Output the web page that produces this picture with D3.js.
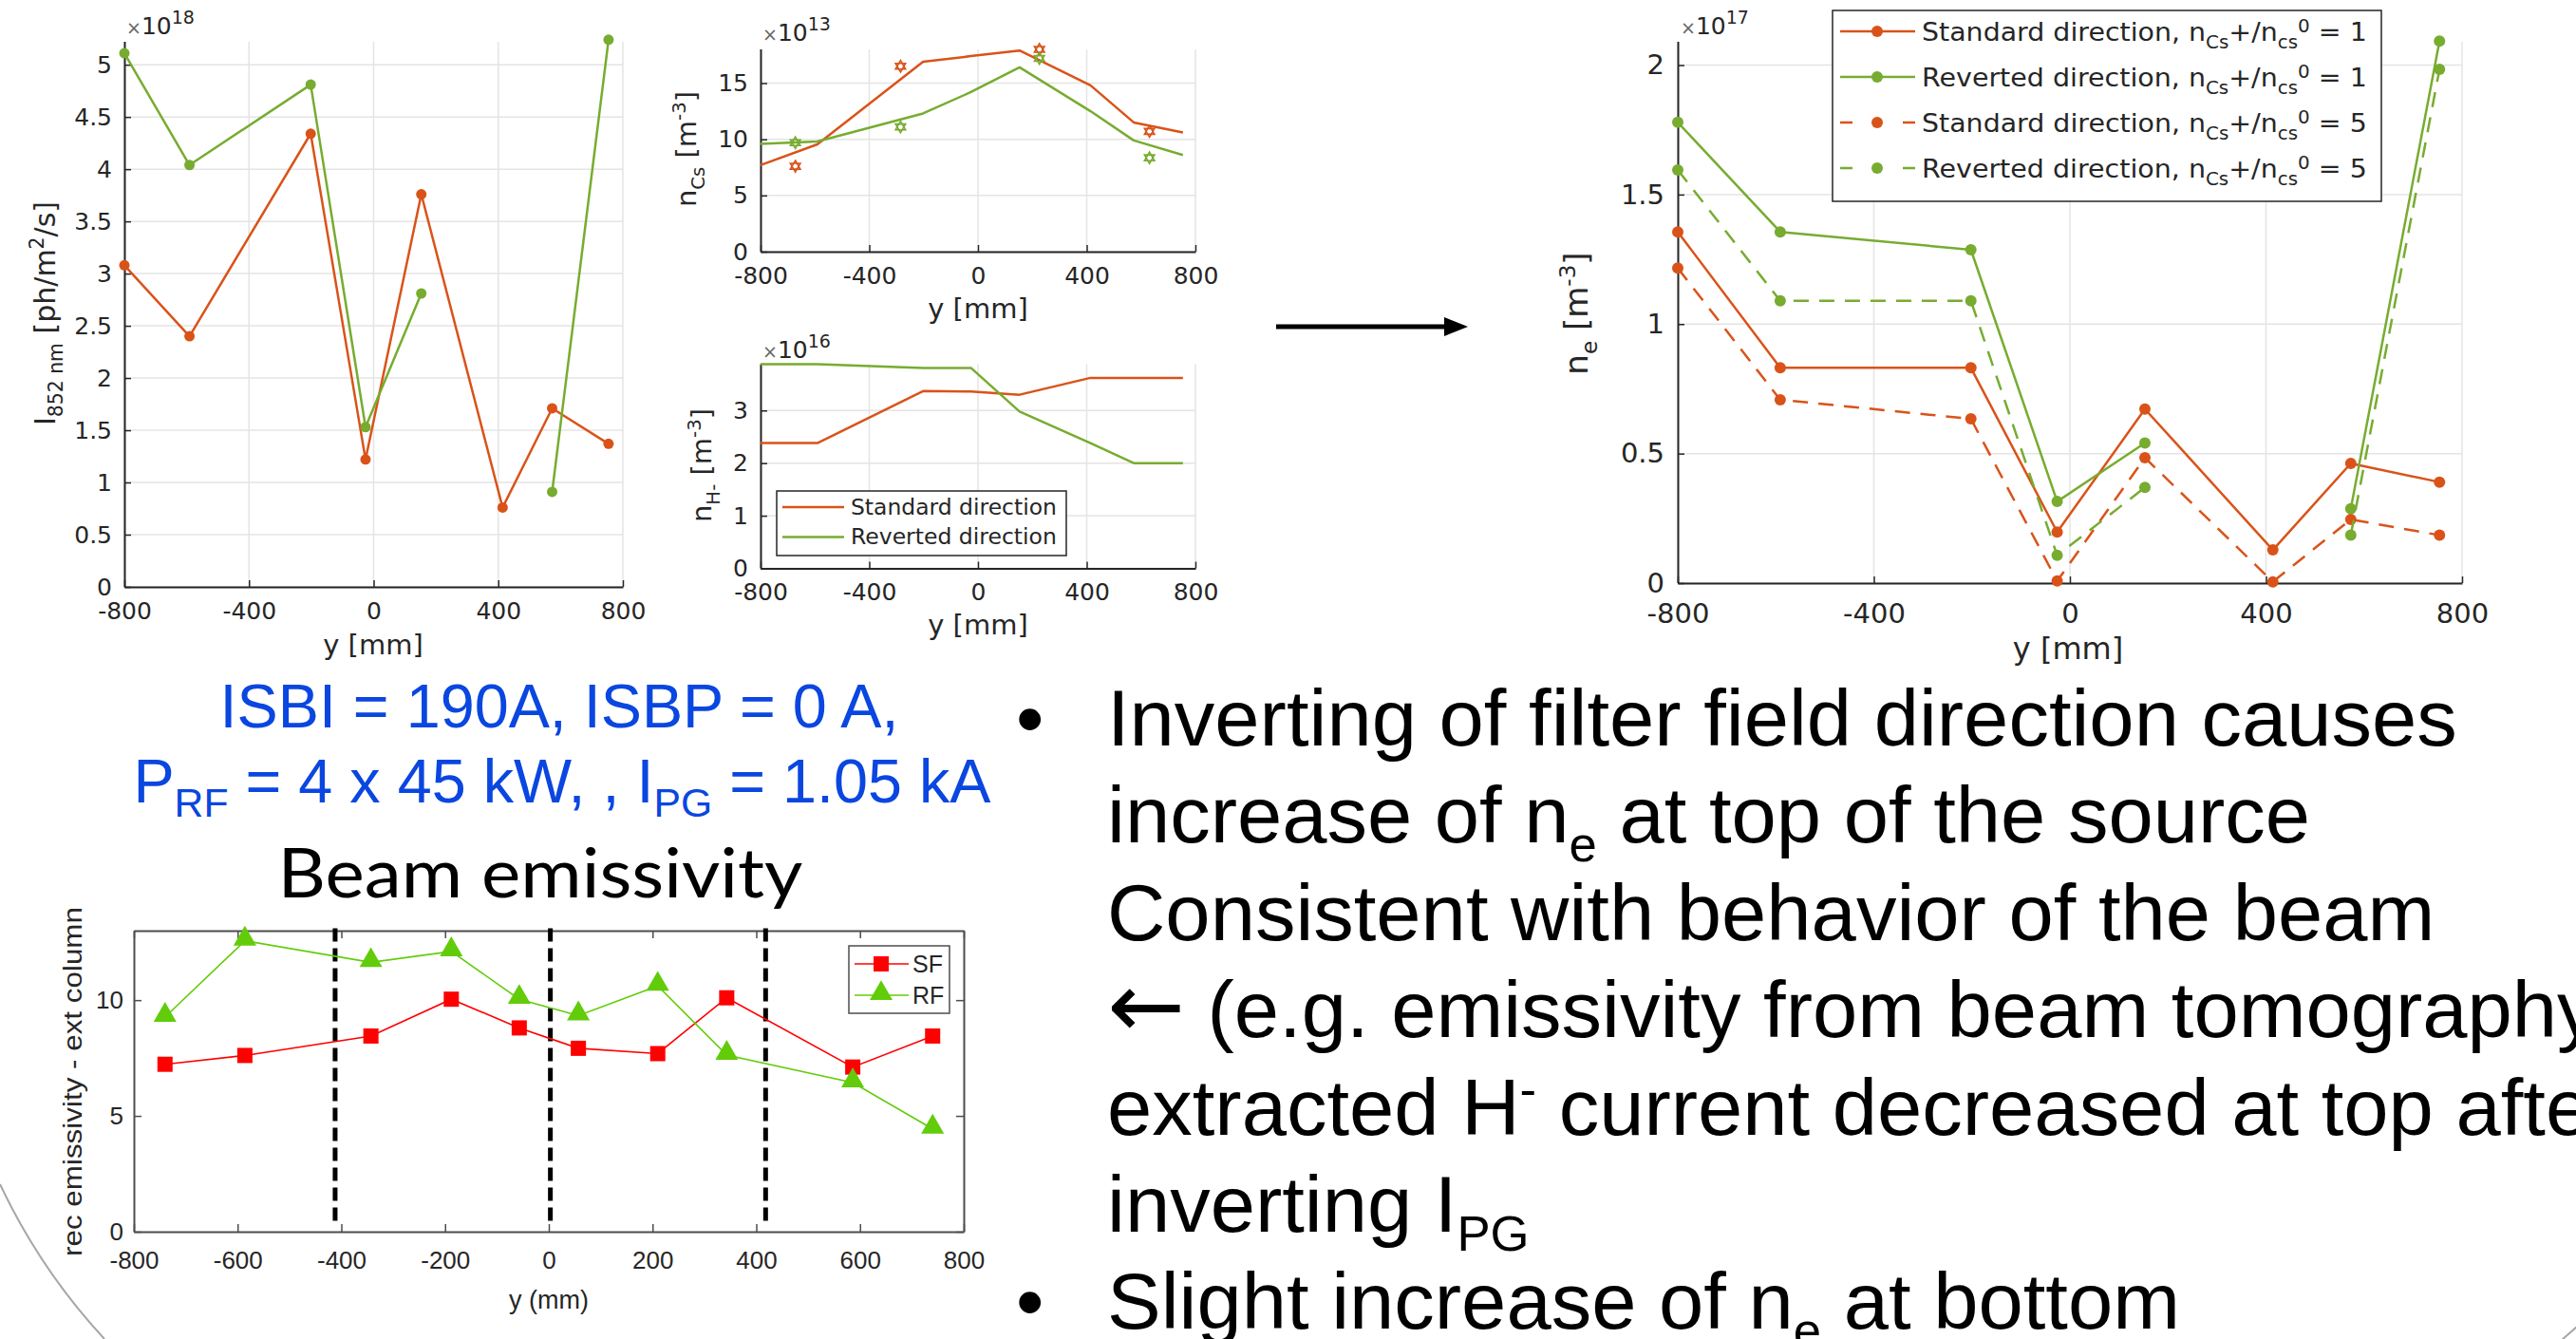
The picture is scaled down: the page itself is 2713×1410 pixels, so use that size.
<!DOCTYPE html>
<html>
<head>
<meta charset="utf-8">
<script src="https://cdn.jsdelivr.net/npm/d3@7"></script>
<style>
  body { margin: 0; background: #fff; }
  text { white-space: pre; }
</style>
</head>
<body>
<svg id="slide" width="2713" height="1410"></svg>
<script>
// ---------- data ----------
const xTicks = [-800, -400, 0, 400, 800];
const positions = [-800, -591, -202, -26, 153, 414, 573, 754];

// Cs 852 nm emission (x1e18 ph/m2/s)
const intensityStd = [3.08, 2.40, 4.34, 1.22, 3.76, 0.76, 1.71, 1.37];
const intensityRev = [5.11, 4.04, 4.81, 1.53, 2.81, null, 0.91, 5.24];
const intensityTicks = [0, 0.5, 1, 1.5, 2, 2.5, 3, 3.5, 4, 4.5, 5];

// Cs density (x1e13 m^-3): model lines and measured points
const csStd = [7.7, 9.55, 16.9, 17.4, 17.9, 14.8, 11.5, 10.6];
const csRev = [9.6, 9.8, 12.3, 14.2, 16.4, 12.5, 9.9, 8.6];
const csMeasPos = [-672, -285, 226, 631];
const csMeasStd = [7.6, 16.5, 18.0, 10.7];
const csMeasRev = [9.7, 11.1, 17.2, 8.35];
const csTicks = [0, 5, 10, 15];

// H- density (x1e16 m^-3)
const hStd = [2.38, 2.38, 3.37, 3.36, 3.30, 3.62, 3.62, 3.62];
const hRev = [3.88, 3.88, 3.81, 3.81, 2.98, 2.38, 2.0, 2.0];
const hTicks = [0, 1, 2, 3];

// electron density (x1e17 m^-3)
const neStd1 = [1.356, 0.831, 0.831, 0.197, 0.672, 0.128, 0.462, 0.390];
const neRev1 = [1.779, 1.356, 1.287, 0.315, 0.541, null, 0.287, 2.093];
const neStd5 = [1.216, 0.708, 0.634, 0.008, 0.484, 0.005, 0.246, 0.185];
const neRev5 = [1.595, 1.090, 1.090, 0.107, 0.369, null, 0.185, 1.984];
const neTicks = [0, 0.5, 1, 1.5, 2];
const neLegend = ["Standard direction", "Reverted direction", "Standard direction", "Reverted direction"];
const neRatio = ["1", "1", "5", "5"];

// beam emissivity (rec emissivity - ext column)
const beamPos = [-740, -586, -343, -188, -57, 57, 210, 343, 586, 740];
const beamSF = [7.23, 7.61, 8.45, 10.04, 8.80, 7.92, 7.69, 10.10, 7.11, 8.45];
const beamRF = [9.27, 12.56, 11.63, 12.10, 10.04, 9.33, 10.61, 7.63, 6.44, 4.44];
const beamDividers = [-412, 3, 418];
const beamXTicks = [-800, -600, -400, -200, 0, 200, 400, 600, 800];
const beamYTicks = [0, 5, 10];

const bulletLines = [
  [["Inverting of filter field direction causes"]],
  [["increase of n"], ["e", "sub"], [" at top of the source"]],
  [["Consistent with behavior of the beam"]],
  [["\u2190", "big"], [" (e.g. emissivity from beam tomography)"]],
  [["extracted H"], ["-", "sup"], [" current decreased at top after"]],
  [["inverting I"], ["PG", "sub"]],
  [["Slight increase of n"], ["e", "sub"], [" at bottom"]]
];

// ---------- helpers ----------
const svg = d3.select("#slide");
const ORANGE = "#d95319", GREEN = "#77ac30", INK = "#262626", GRID = "#e4e4e4";
const MFONT = "'DejaVu Sans', sans-serif";
const NARROW = "'Liberation Sans Narrow', 'Arial Narrow', 'Liberation Sans', Arial, sans-serif";

// text with sub/superscripts, parts = [[string, kind], ...]
function rich(t, parts, size, opt = {}) {
  const small = size * (opt.scale || 0.68);
  const sub = opt.sub != null ? opt.sub : size * 0.28;
  const sup = opt.sup != null ? opt.sup : size * 0.38;
  let shift = 0;
  parts.forEach(([str, kind]) => {
    const target = kind === "sub" ? sub : kind === "sup" ? -sup : 0;
    const ts = t.append("tspan").attr("dy", target - shift).text(str);
    if (kind === "big") ts.attr("font-size", size * 1.15).attr("font-family", "'DejaVu Sans', sans-serif");
    else ts.attr("font-size", kind ? small : size);
    shift = target;
  });
  return t;
}

// squeeze/stretch a text horizontally to a given width around cx
function fit(t, width, cx) {
  const w = t.node().getBBox().width;
  const k = width / w;
  t.attr("transform", `translate(${cx},0) scale(${k},1) translate(${-cx},0)`);
  return k;
}

function vLabel(cx, cy, parts, size, family, opt) {
  const g = svg.append("g").attr("transform", `translate(${cx},${cy}) rotate(-90)`);
  const t = g.append("text").attr("x", 0).attr("y", size * 0.36)
    .attr("text-anchor", "middle").attr("font-family", family).attr("fill", INK);
  rich(t, parts, size, opt);
  return t;
}

function hLabel(x, y, parts, size, anchor, family, opt) {
  const t = svg.append("text").attr("x", x).attr("y", y)
    .attr("text-anchor", anchor).attr("font-family", family).attr("fill", INK);
  rich(t, parts, size, opt);
  return t;
}

function exponent(x, y, power) {
  const t = svg.append("text").attr("x", x).attr("y", y).attr("font-family", MFONT).attr("fill", INK);
  t.append("tspan").attr("font-size", 19).attr("fill", "#666").text("\u00d7");
  t.append("tspan").attr("font-size", 25).text("10");
  t.append("tspan").attr("font-size", 19).attr("dy", -11).text(power);
}

// MATLAB-like axes with grid, left + bottom axis lines
function panel(o) {
  const x = d3.scaleLinear().domain([-800, 800]).range([o.left, o.right]);
  const y = d3.scaleLinear().domain([0, o.yMax]).range([o.bottom, o.top]);
  const g = svg.append("g");

  g.append("g").selectAll("line").data(xTicks).join("line")
    .attr("x1", d => x(d)).attr("x2", d => x(d)).attr("y1", o.top).attr("y2", o.bottom)
    .attr("stroke", GRID).attr("stroke-width", 1.5);
  g.append("g").selectAll("line").data(o.yTicks).join("line")
    .attr("y1", d => y(d)).attr("y2", d => y(d)).attr("x1", o.left).attr("x2", o.right)
    .attr("stroke", GRID).attr("stroke-width", 1.5);

  const xa = g.append("g").attr("transform", `translate(0,${o.bottom})`)
    .call(d3.axisBottom(x).tickValues(xTicks).tickFormat(d => String(d))
      .tickSize(-7).tickSizeOuter(0).tickPadding(o.xPad));
  const ya = g.append("g").attr("transform", `translate(${o.left},0)`)
    .call(d3.axisLeft(y).tickValues(o.yTicks).tickFormat(d => String(d))
      .tickSize(-7).tickSizeOuter(0).tickPadding(o.yPad));
  [xa, ya].forEach(a => {
    a.attr("font-family", MFONT).attr("font-size", o.font).attr("color", INK);
    a.select(".domain").attr("stroke-width", 2);
    a.selectAll(".tick line").attr("stroke-width", 1.5);
  });
  ya.select(".domain").attr("d", `M0.5,${o.bottom}V${o.top}`);
  return { g, x, y };
}

function series(p, xs, ys, color, opt = {}) {
  const pts = xs.map((v, i) => [v, ys[i]]);
  const line = d3.line().defined(d => d[1] != null).x(d => p.x(d[0])).y(d => p.y(d[1]));
  p.g.append("path").attr("d", line(pts))
    .attr("fill", "none").attr("stroke", color).attr("stroke-width", opt.w || 2.5)
    .attr("stroke-dasharray", opt.dash || null).attr("stroke-linejoin", "round");
  if (opt.r) {
    p.g.append("g").selectAll("circle").data(pts.filter(d => d[1] != null)).join("circle")
      .attr("cx", d => p.x(d[0])).attr("cy", d => p.y(d[1])).attr("r", opt.r).attr("fill", color);
  }
}

function hexagrams(p, xs, ys, color) {
  const tri = d3.symbol(d3.symbolTriangle, 48);
  const g = p.g.append("g");
  xs.forEach((v, i) => {
    [0, 180].forEach(rot => {
      g.append("path").attr("d", tri())
        .attr("transform", `translate(${p.x(v)},${p.y(ys[i])}) rotate(${rot})`)
        .attr("fill", "none").attr("stroke", color).attr("stroke-width", 1.6);
    });
  });
}

// ---------- panel 1: Cs 852 nm intensity ----------
const p1 = panel({ left: 131, right: 656, top: 44, bottom: 618, yMax: 5.22,
  yTicks: intensityTicks, font: 25, xPad: 16, yPad: 13 });
series(p1, positions, intensityStd, ORANGE, { r: 5.5 });
series(p1, positions, intensityRev, GREEN, { r: 5.5 });
exponent(133, 36, "18");
vLabel(47, 330, [["I"], ["852 nm", "sub"], [" [ph/m"], ["2", "sup"], ["/s]"]], 30, MFONT);
hLabel(393, 689, [["y [mm]"]], 29, "middle", MFONT);

// ---------- panel 2: Cs density ----------
const p2 = panel({ left: 801, right: 1259, top: 52, bottom: 265, yMax: 18,
  yTicks: csTicks, font: 25, xPad: 16, yPad: 13 });
series(p2, positions, csStd, ORANGE);
series(p2, positions, csRev, GREEN);
hexagrams(p2, csMeasPos, csMeasStd, ORANGE);
hexagrams(p2, csMeasPos, csMeasRev, GREEN);
exponent(803, 43, "13");
vLabel(723, 157, [["n"], ["Cs", "sub"], [" [m"], ["-3", "sup"], ["]"]], 29, MFONT);
hLabel(1030, 335, [["y [mm]"]], 29, "middle", MFONT);

// ---------- panel 3: H- density ----------
const p3 = panel({ left: 801, right: 1259, top: 383.5, bottom: 598.5, yMax: 3.88,
  yTicks: hTicks, font: 25, xPad: 16, yPad: 13 });
series(p3, positions, hStd, ORANGE);
series(p3, positions, hRev, GREEN);
exponent(803, 377, "16");
vLabel(739, 490, [["n"], ["H-", "sub"], [" [m"], ["-3", "sup"], ["]"]], 29, MFONT);
hLabel(1030, 668, [["y [mm]"]], 29, "middle", MFONT);

const leg3 = svg.append("g");
leg3.append("rect").attr("x", 818).attr("y", 517).attr("width", 305).attr("height", 68)
  .attr("fill", "#fff").attr("stroke", INK).attr("stroke-width", 1.5);
[["Standard direction", ORANGE], ["Reverted direction", GREEN]].forEach(([name, c], i) => {
  const yy = 534 + i * 31.5;
  leg3.append("line").attr("x1", 824).attr("x2", 889).attr("y1", yy).attr("y2", yy)
    .attr("stroke", c).attr("stroke-width", 2.5);
  const t = leg3.append("text").attr("x", 896).attr("y", yy + 8).attr("font-family", MFONT)
    .attr("font-size", 23).attr("fill", INK).text(name);
  fit(t, 217, 896);
});

// ---------- panel 4: electron density ----------
const p4 = panel({ left: 1767, right: 2593, top: 44, bottom: 614, yMax: 2.09,
  yTicks: neTicks, font: 29, xPad: 21, yPad: 14 });
const neSeries = [[neStd1, ORANGE, null], [neRev1, GREEN, null], [neStd5, ORANGE, "16,11"], [neRev5, GREEN, "16,11"]];
neSeries.forEach(([vals, c, dash]) => series(p4, positions, vals, c, { r: 6, dash }));
exponent(1770, 36, "17");
vLabel(1660, 330, [["n"], ["e", "sub"], [" [m"], ["-3", "sup"], ["]"]], 34, MFONT);
hLabel(2178, 694, [["y [mm]"]], 32, "middle", MFONT);

const leg4 = svg.append("g");
leg4.append("rect").attr("x", 1930).attr("y", 11).attr("width", 578).attr("height", 201)
  .attr("fill", "#fff").attr("stroke", INK).attr("stroke-width", 1.5);
neSeries.forEach(([vals, c, dash], i) => {
  const yy = 33 + i * 48;
  leg4.append("line").attr("x1", 1938).attr("x2", 2017).attr("y1", yy).attr("y2", yy)
    .attr("stroke", c).attr("stroke-width", 2.5).attr("stroke-dasharray", dash ? "13,53,13" : null);
  leg4.append("circle").attr("cx", 1977).attr("cy", yy).attr("r", 6).attr("fill", c);
  const t = leg4.append("text").attr("x", 2024).attr("y", yy + 10).attr("font-family", MFONT).attr("fill", INK);
  rich(t, [[neLegend[i] + ", n"], ["Cs", "sub"], ["+/n"], ["cs", "sub"], ["0", "sup"], [" = " + neRatio[i]]], 27,
    { scale: 0.7, sub: 8, sup: 9 });
  fit(t, 469, 2024);
});

// ---------- arrow ----------
svg.append("line").attr("x1", 1344).attr("x2", 1526).attr("y1", 344).attr("y2", 344)
  .attr("stroke", "#000").attr("stroke-width", 5);
svg.append("path").attr("d", "M1546,344 L1521,334 L1521,354 Z").attr("fill", "#000");

// ---------- operating parameters (blue) ----------
const BLUE = "#0a46e0";
const blue1 = svg.append("text").attr("x", 589).attr("y", 766).attr("text-anchor", "middle")
  .attr("font-family", NARROW).attr("fill", BLUE);
rich(blue1, [["ISBI = 190A, ISBP = 0 A,"]], 65);
fit(blue1, 715, 589);
const blue2 = svg.append("text").attr("x", 592).attr("y", 845).attr("text-anchor", "middle")
  .attr("font-family", NARROW).attr("fill", BLUE);
rich(blue2, [["P"], ["RF", "sub"], [" = 4 x 45 kW, , I"], ["PG", "sub"], [" = 1.05 kA"]], 65, { scale: 0.66, sub: 15 });
fit(blue2, 904, 592);

const title = svg.append("text").attr("x", 569).attr("y", 945).attr("text-anchor", "middle")
  .attr("font-family", "Lato, 'Open Sans', sans-serif").attr("font-size", 72).attr("fill", "#000")
  .text("Beam emissivity");
fit(title, 553, 569);

// ---------- beam emissivity chart ----------
const bx = d3.scaleLinear().domain([-800, 800]).range([141, 1015]);
const by = d3.scaleLinear().domain([0, 13]).range([1297, 980]);
const bg = svg.append("g");
const BOX = "#4d4d4d";
const bAxes = [
  bg.append("g").attr("transform", "translate(0,1297)")
    .call(d3.axisBottom(bx).tickValues(beamXTicks).tickFormat(d => String(d)).tickSize(-8).tickSizeOuter(0).tickPadding(21)),
  bg.append("g").attr("transform", "translate(0,980)")
    .call(d3.axisTop(bx).tickValues(beamXTicks).tickFormat("").tickSize(-8).tickSizeOuter(0)),
  bg.append("g").attr("transform", "translate(141,0)")
    .call(d3.axisLeft(by).tickValues(beamYTicks).tickFormat(d => String(d)).tickSize(-8).tickSizeOuter(0).tickPadding(11)),
  bg.append("g").attr("transform", "translate(1015,0)")
    .call(d3.axisRight(by).tickValues(beamYTicks).tickFormat("").tickSize(-8).tickSizeOuter(0))
];
bAxes.forEach(a => {
  a.attr("color", BOX).attr("font-family", "'Liberation Sans', Arial, sans-serif").attr("font-size", 26);
  a.select(".domain").attr("stroke-width", 2);
  a.selectAll(".tick line").attr("stroke-width", 1.5);
  a.selectAll("text").attr("fill", INK);
});

bg.append("g").selectAll("line").data(beamDividers).join("line")
  .attr("x1", d => bx(d)).attr("x2", d => bx(d)).attr("y1", by(13.1)).attr("y2", by(0.4))
  .attr("stroke", "#000").attr("stroke-width", 5).attr("stroke-dasharray", "14,7");

const beamLine = d3.line().x((d, i) => bx(beamPos[i])).y(d => by(d));
const SF_RED = "#ff0000", RF_GREEN = "#62cc0a";
bg.append("path").attr("d", beamLine(beamSF)).attr("fill", "none").attr("stroke", SF_RED).attr("stroke-width", 1.6);
bg.append("path").attr("d", beamLine(beamRF)).attr("fill", "none").attr("stroke", RF_GREEN).attr("stroke-width", 1.6);
const sq = d3.symbol(d3.symbolSquare, 256), tr = d3.symbol(d3.symbolTriangle, 250);
bg.append("g").selectAll("path").data(beamSF).join("path").attr("d", sq())
  .attr("transform", (d, i) => `translate(${bx(beamPos[i])},${by(d)})`).attr("fill", SF_RED);
bg.append("g").selectAll("path").data(beamRF).join("path").attr("d", tr())
  .attr("transform", (d, i) => `translate(${bx(beamPos[i])},${by(d) - 2})`).attr("fill", RF_GREEN);

const legB = bg.append("g");
legB.append("rect").attr("x", 894).attr("y", 996).attr("width", 106).attr("height", 71)
  .attr("fill", "#fff").attr("stroke", BOX).attr("stroke-width", 1.5);
[["SF", SF_RED, sq], ["RF", RF_GREEN, tr]].forEach(([name, c, sym], i) => {
  const yy = 1015 + i * 33;
  legB.append("line").attr("x1", 900).attr("x2", 957).attr("y1", yy).attr("y2", yy).attr("stroke", c).attr("stroke-width", 1.6);
  legB.append("path").attr("d", sym()).attr("transform", `translate(928,${yy - (i ? 2 : 0)})`).attr("fill", c);
  legB.append("text").attr("x", 961).attr("y", yy + 9).attr("font-family", "'Liberation Sans', Arial, sans-serif")
    .attr("font-size", 25).attr("fill", INK).text(name);
});

const beamY = vLabel(76, 1139, [["rec emissivity - ext column"]], 27, "'Liberation Sans', Arial, sans-serif");
fit(beamY, 368, 0);
hLabel(578, 1378, [["y (mm)"]], 27, "middle", "'Liberation Sans', Arial, sans-serif");

// ---------- bullet text ----------
const bulletG = svg.append("g").attr("font-family", NARROW).attr("fill", "#000");
let k = 1;
bulletLines.forEach((parts, i) => {
  const t = bulletG.append("text").attr("x", 1166).attr("y", 785 + i * 102.4);
  rich(t, parts, 84, { scale: 0.62, sub: 20, sup: 30 });
  if (i === 0) k = fit(t, 1422, 1166);
  else t.attr("transform", `translate(1166,0) scale(${k},1) translate(-1166,0)`);
});
[0, 6].forEach(i => {
  bulletG.append("text").attr("x", 1070).attr("y", 785 + i * 102.4).attr("font-size", 84).text("\u2022");
});

// ---------- slide decoration arcs ----------
svg.append("path").attr("d", "M0,1247 A645,645 0 0 0 110,1410")
  .attr("fill", "none").attr("stroke", "#a6a6a6").attr("stroke-width", 2);
svg.append("path").attr("d", "M2698,1411 L2714,1397")
  .attr("fill", "none").attr("stroke", "#a6a6a6").attr("stroke-width", 2);
</script>
</body>
</html>
